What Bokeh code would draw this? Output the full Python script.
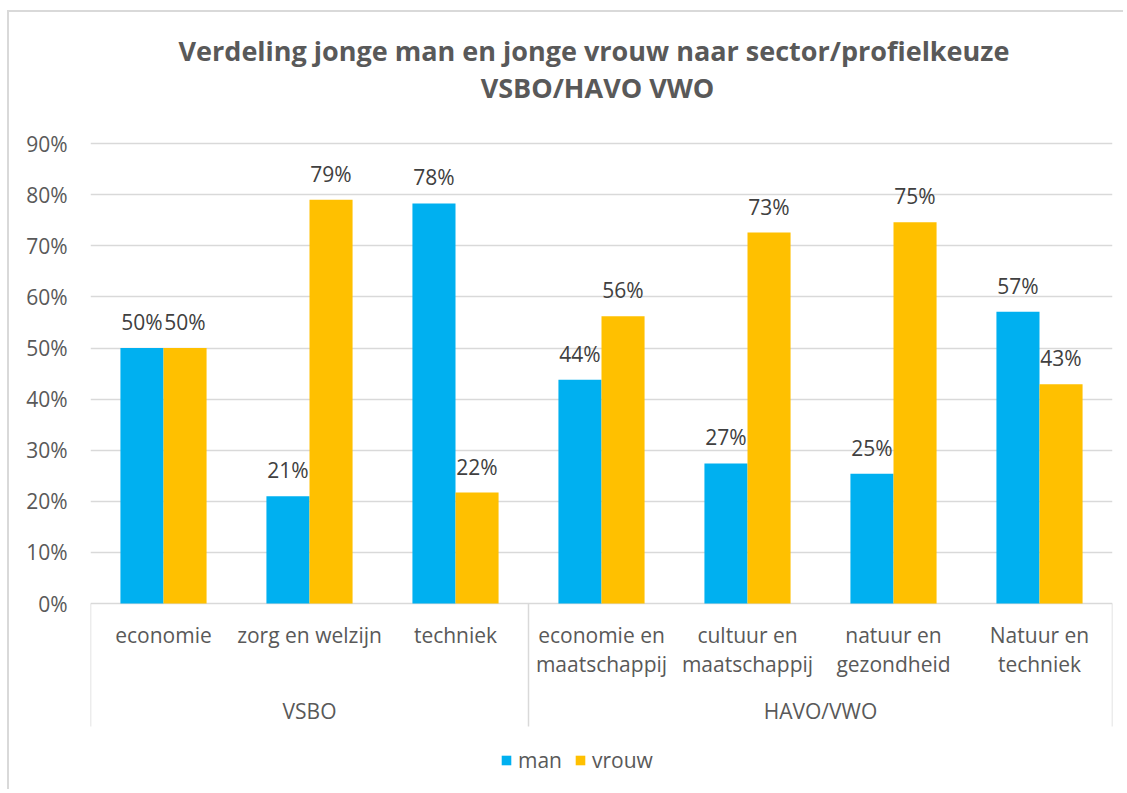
from bokeh.plotting import figure
from bokeh.models import (Range1d, FixedTicker, ColumnDataSource, LabelSet, Legend,
                          LegendItem, NumeralTickFormatter)
from bokeh.core.properties import value
from bokeh.embed import file_html
from bokeh.resources import INLINE

# ---------------- data ----------------
title_lines = ["Verdeling jonge man en  jonge vrouw naar sector/profielkeuze", "VSBO/HAVO VWO"]
categories = ["economie", "zorg en welzijn", "techniek",
              "economie en\nmaatschappij", "cultuur en\nmaatschappij",
              "natuur en\ngezondheid", "Natuur en\ntechniek"]
groups = ["VSBO", "HAVO/VWO"]
group_sizes = [3, 4]
series_names = ["man", "vrouw"]
man = [0.50, 0.21, 0.783, 0.438, 0.274, 0.254, 0.571]
vrouw = [0.50, 0.79, 0.217, 0.562, 0.726, 0.746, 0.429]
y_ticks = [0.0, 0.1, 0.2, 0.3, 0.4, 0.5, 0.6, 0.7, 0.8, 0.9]

# ---------------- styling / layout ----------------
FONT = "Open Sans"
GRAY = "#595959"
C_MAN = "#00B0F0"
C_VROUW = "#FFC000"
OX, OY = 9, 12             # page position of canvas origin
PX = 511.0                 # pixels per 1.0 (100%)
Y_ZERO_PAGE = 603.0        # page y of 0%
FRAME_LEFT_PAGE = 90
FRAME_RIGHT_PAGE = 1112
W = 1116
H = 779


def vy(page_y):
    return (Y_ZERO_PAGE - page_y) / PX


def vx(page_x):
    return (page_x - FRAME_LEFT_PAGE) / ((FRAME_RIGHT_PAGE - FRAME_LEFT_PAGE) / len(categories))


n = len(categories)
bar_w = 0.295

p = figure(width=W, height=H, output_backend="svg", toolbar_location=None,
           x_range=Range1d(0, n), y_range=Range1d(vy(OY + H), vy(OY)),
           x_axis_location=None, y_axis_location="left",
           min_border_left=FRAME_LEFT_PAGE - OX,
           min_border_right=W - (FRAME_RIGHT_PAGE - OX),
           min_border_top=0, min_border_bottom=0)
p.margin = (10, 0, 0, 7)
p.styles = {"border-top": "2px solid #d9d9d9", "border-left": "2px solid #d9d9d9"}
p.outline_line_color = None
p.background_fill_color = "white"
p.border_fill_color = "white"

# y axis
p.yaxis.ticker = FixedTicker(ticks=y_ticks)
p.yaxis.formatter = NumeralTickFormatter(format="0%")
p.yaxis.axis_line_color = None
p.yaxis.major_tick_line_color = None
p.yaxis.minor_tick_line_color = None
p.yaxis.major_tick_out = 0
p.yaxis.major_tick_in = 0
p.yaxis.major_label_standoff = 23
p.yaxis.major_label_text_font = FONT
p.yaxis.major_label_text_font_size = "21px"
p.yaxis.major_label_text_color = GRAY
p.ygrid.ticker = FixedTicker(ticks=y_ticks)
p.ygrid.grid_line_color = "#d9d9d9"
p.ygrid.grid_line_width = 1.5
p.xgrid.grid_line_color = None

# bars
xc = [i + 0.5 for i in range(n)]
src = ColumnDataSource(dict(
    xm=[x - bar_w / 2 for x in xc], xv=[x + bar_w / 2 for x in xc],
    man=man, vrouw=vrouw,
    lm=[f"{round(v * 100)}%" for v in man],
    lv=[f"{round(v * 100)}%" for v in vrouw]))
r_man = p.vbar(x="xm", top="man", bottom=0, width=bar_w, source=src,
               fill_color=C_MAN, line_color=None)
r_vrouw = p.vbar(x="xv", top="vrouw", bottom=0, width=bar_w, source=src,
                 fill_color=C_VROUW, line_color=None)

for col, lab in (("xm", "lm"), ("xv", "lv")):
    ycol = "man" if col == "xm" else "vrouw"
    p.add_layout(LabelSet(x=col, y=ycol, text=lab, source=src, y_offset=18,
                          text_align="center", text_baseline="alphabetic",
                          text_font=value(FONT), text_font_size="21px",
                          text_color="#404040"))

# category axis (multi-level)
bounds = [0]
for s in group_sizes:
    bounds.append(bounds[-1] + s)
p.segment(x0=bounds, y0=[0] * len(bounds), x1=bounds, y1=[vy(726)] * len(bounds),
          line_color="#d9d9d9", line_width=1.5)

tx, ty, tt = [], [], []
for i, c in enumerate(categories):
    for j, line in enumerate(c.split("\n")):
        tx.append(i + 0.5)
        ty.append(vy(634 + 29 * j))
        tt.append(line)
p.text(x=tx, y=ty, text=tt, text_align="center", text_baseline="middle",
       text_font=value(FONT), text_font_size="21px", text_color=GRAY)

gx = [(bounds[k] + bounds[k + 1]) / 2 for k in range(len(groups))]
p.text(x=gx, y=[vy(710)] * len(groups), text=groups, text_align="center",
       text_baseline="middle", text_font=value(FONT), text_font_size="21px",
       text_color=GRAY)

# title
p.text(x=[vx(597)] * 2, y=[vy(50), vy(87)], text=title_lines, text_align="center",
       text_baseline="middle", text_font=value(FONT), text_font_size="27px",
       text_font_style="bold", text_color=GRAY)

# legend
legend = Legend(items=[LegendItem(label=series_names[0], renderers=[r_man]),
                       LegendItem(label=series_names[1], renderers=[r_vrouw])],
                orientation="horizontal",
                location=(500 - FRAME_LEFT_PAGE, (OY + H) - 762 - 12),
                glyph_width=12, glyph_height=12, label_standoff=6, spacing=12,
                padding=0, margin=0, border_line_color=None,
                background_fill_alpha=0,
                label_text_font=FONT, label_text_font_size="21px",
                label_text_color=GRAY)
p.add_layout(legend)

open("out.html", "w").write(file_html(p, INLINE))
